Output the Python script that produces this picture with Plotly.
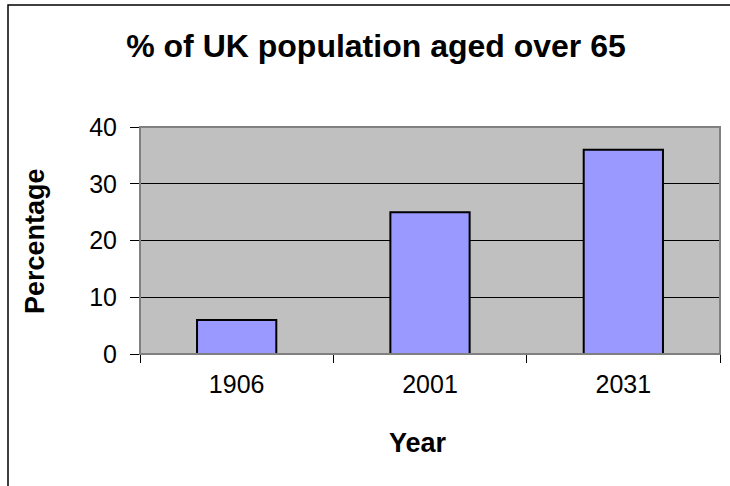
import plotly.graph_objects as go

years = ["1906", "2001", "2031"]
percentages = [6, 25, 36]
y_ticks = [0, 10, 20, 30, 40]

L, R, T, B = 140, 10, 127, 132
W, H = 730, 486
pw = W - L - R
ph = H - T - B

FONT = "Liberation Sans, Arial, sans-serif"

fig = go.Figure(go.Bar(
    x=years, y=percentages,
    marker=dict(color="#9999FF", line=dict(color="black", width=2)),
    width=0.41,
))

fig.update_layout(
    width=W, height=H,
    margin=dict(l=L, r=R, t=T, b=B),
    paper_bgcolor="white",
    plot_bgcolor="#C0C0C0",
    font=dict(family=FONT, color="black", size=25),
    title=dict(text="<b>% of UK population aged over 65</b>", x=376 / W, xanchor="center",
               y=1 - 46 / H, yanchor="middle", font=dict(size=32)),
    showlegend=False,
    xaxis=dict(
        showgrid=False, ticks="outside", tickson="boundaries", ticklen=8,
        tickcolor="black", showline=True, linecolor="black", linewidth=1,
        tickfont=dict(size=25), ticklabelstandoff=8,
    ),
    yaxis=dict(
        range=[0, 40], tickvals=y_ticks, showgrid=True, gridcolor="black", gridwidth=1,
        ticks="outside", ticklen=9, tickcolor="black", showline=True, linecolor="black",
        zeroline=False, tickfont=dict(size=25), ticklabelstandoff=8,
    ),
    annotations=[
        dict(text="<b>Year</b>", xref="paper", yref="paper", x=(418 - L) / pw,
             y=-(443 - T - ph) / ph, xanchor="center", yanchor="middle",
             showarrow=False, font=dict(size=27)),
        dict(text="<b>Percentage</b>", xref="paper", yref="paper", x=(35 - L) / pw,
             y=1 - (241 - T) / ph, xanchor="center", yanchor="middle", textangle=-90,
             showarrow=False, font=dict(size=27)),
    ],
    shapes=[
        dict(type="rect", xref="paper", yref="paper", x0=0, x1=1, y0=0, y1=1,
             line=dict(color="#808080", width=2), fillcolor="rgba(0,0,0,0)", layer="above"),
        dict(type="rect", xref="paper", yref="paper",
             x0=(8 - L) / pw, x1=(740 - L) / pw, y0=(-(H + 10 - T - ph)) / ph, y1=1 + (T - 5) / ph,
             line=dict(color="black", width=1.5), fillcolor="rgba(0,0,0,0)"),
    ],
)

fig.write_html("out.html")
